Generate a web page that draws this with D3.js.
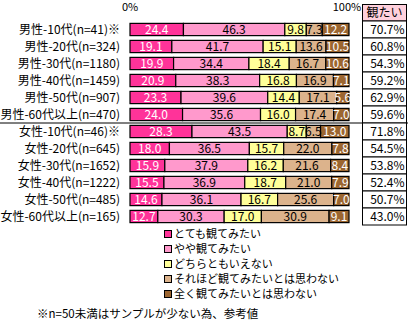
<!DOCTYPE html>
<html>
<head>
<meta charset="utf-8">
<script src="https://cdn.jsdelivr.net/npm/d3@7"></script>
<style>
  body { margin: 0; background: #fff; }
  svg { display: block; font-family: "Noto Sans CJK JP", sans-serif; }
</style>
</head>
<body>
<div id="chart"></div>
<script>
(function(){

const width = 408;
const height = 333;

// data
const categories = [
  "男性-10代(n=41)※", "男性-20代(n=324)", "男性-30代(n=1180)",
  "男性-40代(n=1459)", "男性-50代(n=907)", "男性-60代以上(n=470)",
  "女性-10代(n=46)※", "女性-20代(n=645)", "女性-30代(n=1652)",
  "女性-40代(n=1222)", "女性-50代(n=485)", "女性-60代以上(n=165)"
];
const seriesNames = ["とても観てみたい", "やや観てみたい", "どちらともいえない",
  "それほど観てみたいとは思わない", "全く観てみたいとは思わない"];
const veryMuch  = [24.4, 19.1, 19.9, 20.9, 23.3, 24.0, 28.3, 18.0, 15.9, 15.5, 14.6, 12.7];
const somewhat  = [46.3, 41.7, 34.4, 38.3, 39.6, 35.6, 43.5, 36.5, 37.9, 36.9, 36.1, 30.3];
const neutral   = [9.8, 15.1, 18.4, 16.8, 14.4, 16.0, 8.7, 15.7, 16.2, 18.7, 16.7, 17.0];
const notMuch   = [7.3, 13.6, 16.7, 16.9, 17.1, 17.4, 6.5, 22.0, 21.6, 21.0, 25.6, 30.9];
const notAtAll  = [12.2, 10.5, 10.6, 7.1, 5.6, 7.0, 13.0, 7.8, 8.4, 7.9, 7.0, 9.1];
const watchRate = [70.7, 60.8, 54.3, 59.2, 62.9, 59.6, 71.8, 54.5, 53.8, 52.4, 50.7, 43.0];
const xTicks = [0, 100];
const tableHeader = "観たい";
const footnote = "※n=50未満はサンプルが少ない為、参考値";

const colors = ["#ff3399", "#ff99cc", "#ffff99", "#dcb38c", "#9c6630"];
const textColors = ["#fff", "#000", "#000", "#000", "#fff"];

const rows = categories.map((c, i) => ({
  cat: c,
  s0: veryMuch[i], s1: somewhat[i], s2: neutral[i], s3: notMuch[i], s4: notAtAll[i]
}));
const keys = ["s0", "s1", "s2", "s3", "s4"];
const stacked = d3.stack().keys(keys)(rows);

const svg = d3.select("#chart")
  .append("svg")
  .attr("width", width)
  .attr("height", height);

const x = d3.scaleLinear().domain([0, 100]).range([130, 349]);

const y = d3.scaleBand()
  .domain(categories)
  .range([21, 225])
  .paddingInner(0.28)
  .paddingOuter(0.14);

// tick labels 0% / 100%
svg.selectAll(".tick-label")
  .data(xTicks)
  .enter()
  .append("text")
  .attr("x", d => x(d) - (d === 100 ? 2 : 0))
  .attr("y", 11)
  .attr("text-anchor", "middle")
  .style("font-size", "11px")
  .text(d => d + "%");

// category labels
svg.selectAll(".cat")
  .data(categories)
  .enter()
  .append("text")
  .attr("x", 120)
  .attr("y", d => y(d) + y.bandwidth() / 2)
  .attr("dy", "0.36em")
  .attr("text-anchor", "end")
  .style("font-size", "12px")
  .text(d => d);

// bars
const layer = svg.selectAll(".layer")
  .data(stacked)
  .enter()
  .append("g")
  .attr("fill", (d, i) => colors[i]);

layer.selectAll("rect")
  .data(d => d)
  .enter()
  .append("rect")
  .attr("x", d => x(d[0]))
  .attr("y", d => y(d.data.cat))
  .attr("width", d => x(d[1]) - x(d[0]))
  .attr("height", y.bandwidth())
  .attr("stroke", "#000")
  .attr("stroke-width", 1.2);

// value labels
stacked.forEach((s, si) => {
  svg.selectAll(".v" + si)
    .data(s)
    .enter()
    .append("text")
    .attr("x", d => (x(d[0]) + x(d[1])) / 2)
    .attr("y", d => y(d.data.cat) + y.bandwidth() / 2)
    .attr("dy", "0.36em")
    .attr("text-anchor", "middle")
    .attr("fill", textColors[si])
    .style("font-size", "12px")
    .text(d => (d[1] - d[0]).toFixed(1));
});

// separator between men and women
const sepY = (y(categories[5]) + y.bandwidth() + y(categories[6])) / 2;
svg.append("line")
  .attr("x1", 0)
  .attr("x2", width)
  .attr("y1", sepY)
  .attr("y2", sepY)
  .attr("stroke", "#000");

// right table
const tx = 362.5, tw = 44;
const step = y.step();
svg.append("rect")
  .attr("x", tx)
  .attr("y", 4.5)
  .attr("width", tw)
  .attr("height", 21 - 4.5)
  .attr("fill", "#ffd0dc")
  .attr("stroke", "#000");

svg.append("text")
  .attr("x", tx + tw / 2)
  .attr("y", 13)
  .attr("dy", "0.36em")
  .attr("text-anchor", "middle")
  .style("font-size", "12px")
  .text(tableHeader);

svg.selectAll(".cell")
  .data(categories)
  .enter()
  .append("rect")
  .attr("x", tx)
  .attr("y", d => y(d) - y.paddingInner() * step / 2)
  .attr("width", tw)
  .attr("height", step)
  .attr("fill", "#fff")
  .attr("stroke", "#000");

svg.selectAll(".rate")
  .data(categories)
  .enter()
  .append("text")
  .attr("x", tx + tw - 2)
  .attr("y", d => y(d) + y.bandwidth() / 2)
  .attr("dy", "0.36em")
  .attr("text-anchor", "end")
  .style("font-size", "12px")
  .text((d, i) => watchRate[i].toFixed(1) + "%");

// legend
const legend = svg.selectAll(".legend")
  .data(seriesNames)
  .enter()
  .append("g")
  .attr("transform", (d, i) => `translate(164, ${234 + i * 15})`);

legend.append("rect")
  .attr("x", 0.5)
  .attr("y", -3.5)
  .attr("width", 7)
  .attr("height", 7)
  .attr("fill", (d, i) => colors[i])
  .attr("stroke", "#000");

legend.append("text")
  .attr("x", 10)
  .attr("y", 0)
  .attr("dy", "0.36em")
  .style("font-size", "11px")
  .text(d => d);

svg.append("text")
  .attr("x", 37)
  .attr("y", 314)
  .attr("dy", "0.36em")
  .style("font-size", "11.5px")
  .text(footnote);

})();
</script>
</body>
</html>
